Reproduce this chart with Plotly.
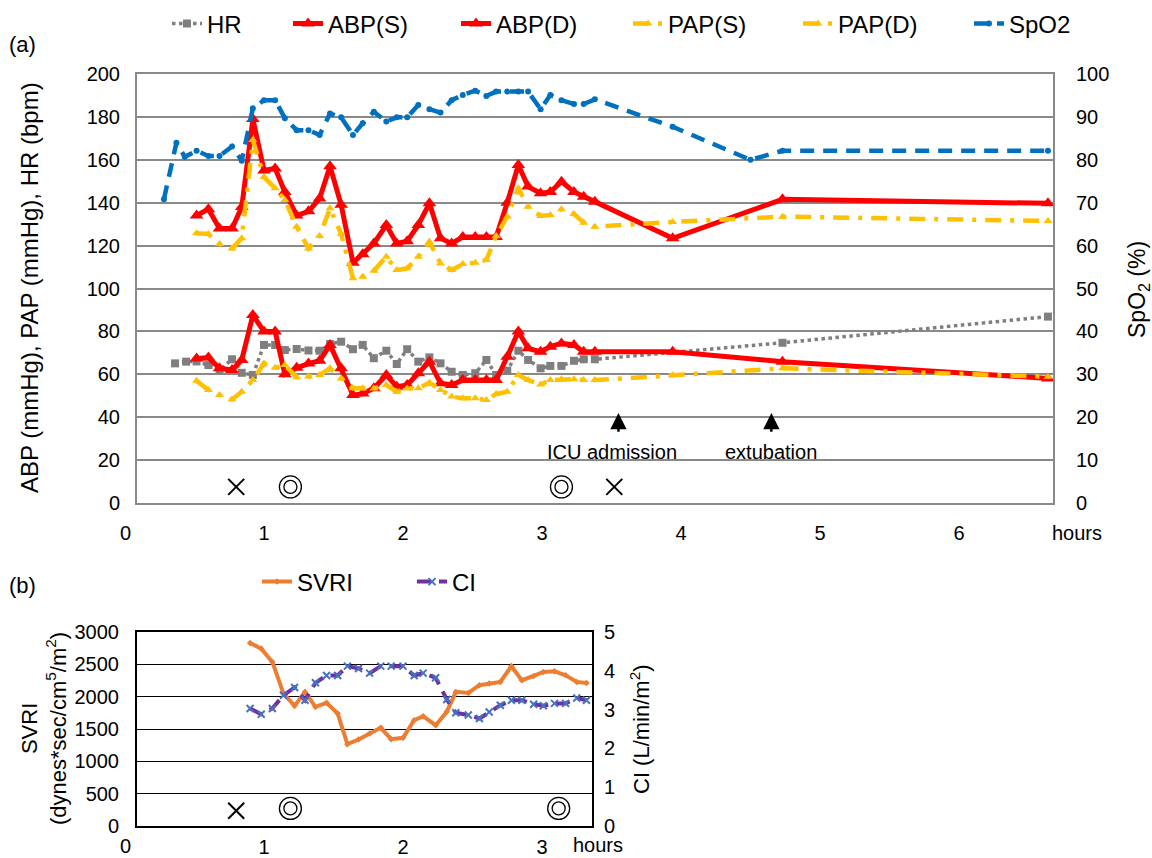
import plotly.graph_objects as go

# ---------------- Panel (a) data ----------------
t_a = [0.515, 0.60, 0.68, 0.77, 0.84, 0.92, 1.00, 1.08, 1.15, 1.235, 1.32, 1.40, 1.475, 1.555,
       1.64, 1.71, 1.79, 1.88, 1.955, 2.03, 2.11, 2.19, 2.27, 2.35, 2.43, 2.52, 2.60, 2.67,
       2.75, 2.83, 2.90, 2.99, 3.06, 3.14, 3.23, 3.30, 3.38, 3.94, 4.73, 6.64]
abp_s = [134, 137, 128, 128, 138, 179, 155, 156, 145, 134, 136, 142, 157, 139,
         112, 116, 121, 129.6, 121, 122, 129.6, 139.7, 123.4, 121, 124, 124, 124, 124,
         140, 157.6, 147.5, 144.4, 145, 149.8, 145, 142.8, 140.5, 123.4, 141.6, 139.7]
abp_d = [67.4, 67.8, 62.8, 62, 66.7, 87.6, 80, 80, 60, 63, 65, 66.3, 73.7, 62.8,
         50.3, 51, 53.5, 59.7, 54.2, 55, 60.5, 65.9, 55.8, 55, 57.3, 57.3, 57.3, 57.3,
         68.2, 79.9, 72.1, 70.5, 72.9, 74.4, 73.7, 70.5, 70.5, 70.5, 65.9, 58.1]
pap_s = [125.7, 125.4, 120.7, 118.7, 123.4, 169.2, 152, 146.7, 141.3, 128.8, 118.7, 124.5, 137.4, 125.4,
         104.8, 105.5, 108.3, 114.8, 108.6, 109.4, 114.8, 121.8, 111.7, 108.6, 111.4, 112, 113.3, 124.5,
         133.5, 146.7, 138.1, 133.8, 134.3, 136.9, 134.7, 130.7, 128.8, 131, 133.5, 131.5]
pap_d = [57, 52.7, 50.3, 48.3, 51.9, 57.3, 65, 63, 64.3, 58.6, 59, 59.7, 62.8, 58.1,
         53.5, 53.5, 53.4, 55, 51.9, 53.4, 53.5, 56.1, 52.7, 49.6, 48.8, 48.8, 48, 50.8,
         51.9, 59.7, 57.3, 55.3, 57.3, 57.7, 57.7, 57.3, 57.3, 59.5, 62.8, 58.9]

t_hr = [0.36, 0.44, 0.515, 0.60, 0.68, 0.77, 0.84, 0.92, 1.00, 1.08, 1.15, 1.235, 1.32, 1.40,
        1.475, 1.555, 1.64, 1.71, 1.79, 1.88, 1.955, 2.03, 2.11, 2.19, 2.27, 2.35, 2.43, 2.52,
        2.60, 2.67, 2.75, 2.83, 2.90, 2.99, 3.06, 3.14, 3.23, 3.30, 3.38, 4.73, 6.64]
hr = [65.1, 65.9, 66, 64.3, 62, 67, 60.7, 59.7, 73.7, 73.7, 71.3, 71.8, 71.1, 71,
      74.1, 75.2, 71.7, 73.7, 67.5, 71, 64.8, 71.7, 65.9, 67.9, 65.1, 61.2, 59.7, 60.5,
      66.7, 59.7, 61.7, 71, 66.7, 62.8, 63.9, 63.9, 66.3, 67, 67, 74.7, 86.9]

t_spo2 = [0.28, 0.37, 0.43, 0.515, 0.60, 0.68, 0.77, 0.84, 0.92, 1.00, 1.08, 1.15, 1.235, 1.32,
          1.40, 1.475, 1.555, 1.64, 1.71, 1.79, 1.88, 1.955, 2.03, 2.11, 2.19, 2.27, 2.35, 2.43,
          2.52, 2.60, 2.67, 2.75, 2.83, 2.90, 2.99, 3.06, 3.14, 3.23, 3.30, 3.38, 3.94, 4.50, 4.73, 6.64]
spo2 = [70.8, 84, 80.7, 82.1, 80.9, 80.9, 83.1, 79.8, 92, 93.9, 93.9, 89.7, 86.9, 86.9,
        85.8, 90.8, 89.9, 85.8, 88.5, 91.2, 88.9, 89.9, 89.9, 92.8, 91.8, 91, 93.9, 95.1,
        96.1, 94.9, 95.9, 95.9, 95.9, 95.9, 91.8, 95.1, 93.9, 93, 93, 94.1, 87.7, 80, 82.1, 82.1]

# event markers (x = hours)
cross_t = [0.80, 3.52]
circle_t = [1.19, 3.14]
events = ["ICU admission", "extubation"]
events_t = [3.55, 4.65]

# ---------------- Panel (b) data ----------------
t_b = [0.90, 0.98, 1.06, 1.14, 1.22, 1.295, 1.37, 1.45, 1.53, 1.60, 1.68, 1.76, 1.84, 1.915,
       2.00, 2.08, 2.145, 2.235, 2.315, 2.38, 2.47, 2.55, 2.62, 2.70, 2.78, 2.855, 2.94, 3.01,
       3.09, 3.17, 3.25, 3.32]
svri = [2830, 2743, 2537, 2048, 1858, 2074, 1842, 1904, 1739, 1266, 1338, 1431, 1518, 1343,
        1364, 1636, 1698, 1559, 1765, 2074, 2058, 2177, 2202, 2228, 2470, 2254, 2321, 2383,
        2393, 2331, 2228, 2213]
ci = [3.03, 2.88, 3.03, 3.37, 3.57, 3.24, 3.69, 3.88, 3.88, 4.12, 4.06, 3.94, 4.12, 4.12,
      4.12, 3.88, 3.94, 3.82, 3.26, 2.92, 2.86, 2.77, 2.94, 3.11, 3.24, 3.24, 3.14, 3.10,
      3.16, 3.16, 3.30, 3.24]
cross_t_b = [0.80]
circle_t_b = [1.19, 3.12]

FONT = "Liberation Sans, Arial, sans-serif"
W, H = 1152, 858


def px(x):
    return x / W


def py(y):
    return 1 - y / H


fig = go.Figure()

# ---- panel (a) traces ----
fig.add_trace(go.Scatter(x=t_hr, y=hr, name="HR", mode="lines+markers",
                         line=dict(color="#7F7F7F", width=3.5, dash="dot"),
                         marker=dict(symbol="square", size=8, color="#7F7F7F"),
                         xaxis="x", yaxis="y", legend="legend"))
fig.add_trace(go.Scatter(x=t_a, y=abp_s, name="ABP(S)", mode="lines+markers",
                         line=dict(color="#FF0000", width=5),
                         marker=dict(symbol="triangle-up", size=12, color="#FF0000"),
                         xaxis="x", yaxis="y", legend="legend2"))
fig.add_trace(go.Scatter(x=t_a, y=abp_d, name="ABP(D)", mode="lines+markers",
                         line=dict(color="#FF0000", width=5),
                         marker=dict(symbol="triangle-up", size=12, color="#FF0000"),
                         xaxis="x", yaxis="y", legend="legend3"))
fig.add_trace(go.Scatter(x=t_a, y=pap_s, name="PAP(S)", mode="lines+markers",
                         line=dict(color="#FFC000", width=4.5, dash="16px,9px,4px,9px"),
                         marker=dict(symbol="triangle-up", size=8, color="#FFC000"),
                         xaxis="x", yaxis="y", legend="legend4"))
fig.add_trace(go.Scatter(x=t_a, y=pap_d, name="PAP(D)", mode="lines+markers",
                         line=dict(color="#FFC000", width=4.5, dash="16px,9px,4px,9px"),
                         marker=dict(symbol="triangle-up", size=8, color="#FFC000"),
                         xaxis="x", yaxis="y", legend="legend5"))
fig.add_trace(go.Scatter(x=t_spo2, y=spo2, name="SpO2", mode="lines+markers",
                         line=dict(color="#0070C0", width=4.5, dash="14px,9px"),
                         marker=dict(symbol="circle", size=6, color="#0070C0"),
                         xaxis="x", yaxis="y2", legend="legend6"))
# event symbols panel (a)
fig.add_trace(go.Scatter(x=cross_t, y=[7.5] * len(cross_t), mode="markers", showlegend=False,
                         marker=dict(symbol="x-thin", size=16, line=dict(color="black", width=2)),
                         xaxis="x", yaxis="y", hoverinfo="skip"))
fig.add_trace(go.Scatter(x=circle_t, y=[7.5] * len(circle_t), mode="markers", showlegend=False,
                         marker=dict(symbol="circle-open", size=22, color="black", line=dict(width=1.3)),
                         xaxis="x", yaxis="y", hoverinfo="skip"))
fig.add_trace(go.Scatter(x=circle_t, y=[7.5] * len(circle_t), mode="markers", showlegend=False,
                         marker=dict(symbol="circle-open", size=13, color="black", line=dict(width=1.3)),
                         xaxis="x", yaxis="y", hoverinfo="skip"))

# ---- panel (b) traces ----
fig.add_trace(go.Scatter(x=t_b, y=svri, name="SVRI", mode="lines+markers",
                         line=dict(color="#ED7D31", width=4),
                         marker=dict(symbol="diamond", size=5, color="#ED7D31"),
                         xaxis="x2", yaxis="y3", legend="legend7"))
fig.add_trace(go.Scatter(x=t_b, y=ci, name="CI", mode="lines+markers",
                         line=dict(color="#7030A0", width=4, dash="14px,8px"),
                         marker=dict(symbol="x-thin", size=7, color="#4472C4",
                                     line=dict(color="#4472C4", width=2)),
                         xaxis="x2", yaxis="y4", legend="legend8"))
fig.add_trace(go.Scatter(x=cross_t_b, y=[236] * len(cross_t_b), mode="markers", showlegend=False,
                         marker=dict(symbol="x-thin", size=16, line=dict(color="black", width=2)),
                         xaxis="x2", yaxis="y3", hoverinfo="skip"))
fig.add_trace(go.Scatter(x=circle_t_b, y=[272] * len(circle_t_b), mode="markers", showlegend=False,
                         marker=dict(symbol="circle-open", size=22, color="black", line=dict(width=1.3)),
                         xaxis="x2", yaxis="y3", hoverinfo="skip"))
fig.add_trace(go.Scatter(x=circle_t_b, y=[272] * len(circle_t_b), mode="markers", showlegend=False,
                         marker=dict(symbol="circle-open", size=13, color="black", line=dict(width=1.3)),
                         xaxis="x2", yaxis="y3", hoverinfo="skip"))

GRAY = "#898989"
tickfont = dict(family=FONT, size=20, color="black")


def leg(xpx, ypx, size=24):
    return dict(orientation="h", x=px(xpx), y=py(ypx), xanchor="left", yanchor="middle",
                font=dict(family=FONT, size=size, color="black"), bgcolor="rgba(0,0,0,0)")


legend_pos = {"legend": 167, "legend2": 288, "legend3": 456, "legend4": 628,
              "legend5": 798, "legend6": 969}
layout_legends = {k: leg(v, 24) for k, v in legend_pos.items()}
layout_legends["legend7"] = leg(257, 582)
layout_legends["legend8"] = leg(412, 582)

fig.update_layout(
    width=W, height=H, margin=dict(l=0, r=0, t=0, b=0, autoexpand=False),
    paper_bgcolor="white", plot_bgcolor="white",
    font=dict(family=FONT, size=20, color="black"),
    xaxis=dict(domain=[px(137), px(1053)], range=[(137 - 125) / 139, (1053 - 125) / 139],
               tickvals=[1, 2, 3, 4, 5, 6], ticks="", showgrid=False, zeroline=False,
               showline=True, mirror=True, linecolor=GRAY, linewidth=2,
               tickfont=tickfont, ticklabelstandoff=11, anchor="y"),
    yaxis=dict(domain=[py(503), py(74)], range=[0, 200], dtick=20, ticks="",
               showgrid=True, gridcolor=GRAY, gridwidth=2, zeroline=False,
               showline=True, mirror=True, linecolor=GRAY, linewidth=2,
               tickfont=tickfont, ticklabelstandoff=11, anchor="x"),
    yaxis2=dict(overlaying="y", side="right", range=[0, 100], dtick=10, ticks="",
                showgrid=False, zeroline=False, showline=False,
                tickfont=tickfont, ticklabelstandoff=22, anchor="x"),
    xaxis2=dict(domain=[px(137), px(592)], range=[(137 - 125) / 139, (592 - 125) / 139],
                tickvals=[1, 2, 3], ticks="", showgrid=False, zeroline=False,
                showline=True, mirror=True, linecolor="black", linewidth=2,
                tickfont=tickfont, ticklabelstandoff=2, anchor="y3"),
    yaxis3=dict(domain=[py(826), py(632)], range=[0, 3000], dtick=500, ticks="",
                showgrid=True, gridcolor="black", gridwidth=1.3, zeroline=False,
                showline=True, mirror=True, linecolor="black", linewidth=2,
                tickfont=tickfont, ticklabelstandoff=12, anchor="x2"),
    yaxis4=dict(overlaying="y3", side="right", range=[0, 5], dtick=1, ticks="",
                showgrid=False, zeroline=False, showline=False,
                tickfont=tickfont, ticklabelstandoff=11, anchor="x2"),
    showlegend=True,
    **layout_legends,
)


def pann(text, x, y, size=20, angle=0):
    return dict(text=text, x=px(x), y=py(y), xref="paper", yref="paper", showarrow=False,
                xanchor="center", yanchor="middle", textangle=angle, font=dict(size=size))


ann = [
    pann("(a)", 22, 44, 22),
    pann("(b)", 22, 585, 22),
    pann("0", 125, 533),
    pann("hours", 1077, 533),
    pann("0", 125, 846),
    pann("hours", 598, 845),
    pann("ABP (mmHg), PAP (mmHg), HR (bpm)", 30, 288, 24, -90),
    pann("SpO<sub>2</sub> (%)", 1138, 290, 23, -90),
    pann("SVRI<br>(dynes*sec/cm<sup>5</sup>/m<sup>2</sup>)", 44, 729, 22, -90),
    pann("CI (L/min/m<sup>2</sup>)", 640, 729, 22, -90),
]
# events
text_x = [3.50, 4.65]
for name, tx, ex in zip(events, events_t, text_x):
    ann.append(dict(text="", x=tx, y=42, ax=tx, ay=32.5, xref="x", yref="y", axref="x", ayref="y",
                    showarrow=True, arrowhead=2, arrowsize=1.3, arrowwidth=2.5, arrowcolor="black"))
    ann.append(dict(text=name, x=ex, y=24, xref="x", yref="y", showarrow=False,
                    xanchor="center", yanchor="middle", font=dict(size=20)))
fig.update_layout(annotations=ann)

# remove the default 8px page margin so the figure fills the window exactly
fig.write_html("out.html", config={"displayModeBar": False},
               post_script="document.body.style.margin='0';document.body.style.overflow='hidden';")
